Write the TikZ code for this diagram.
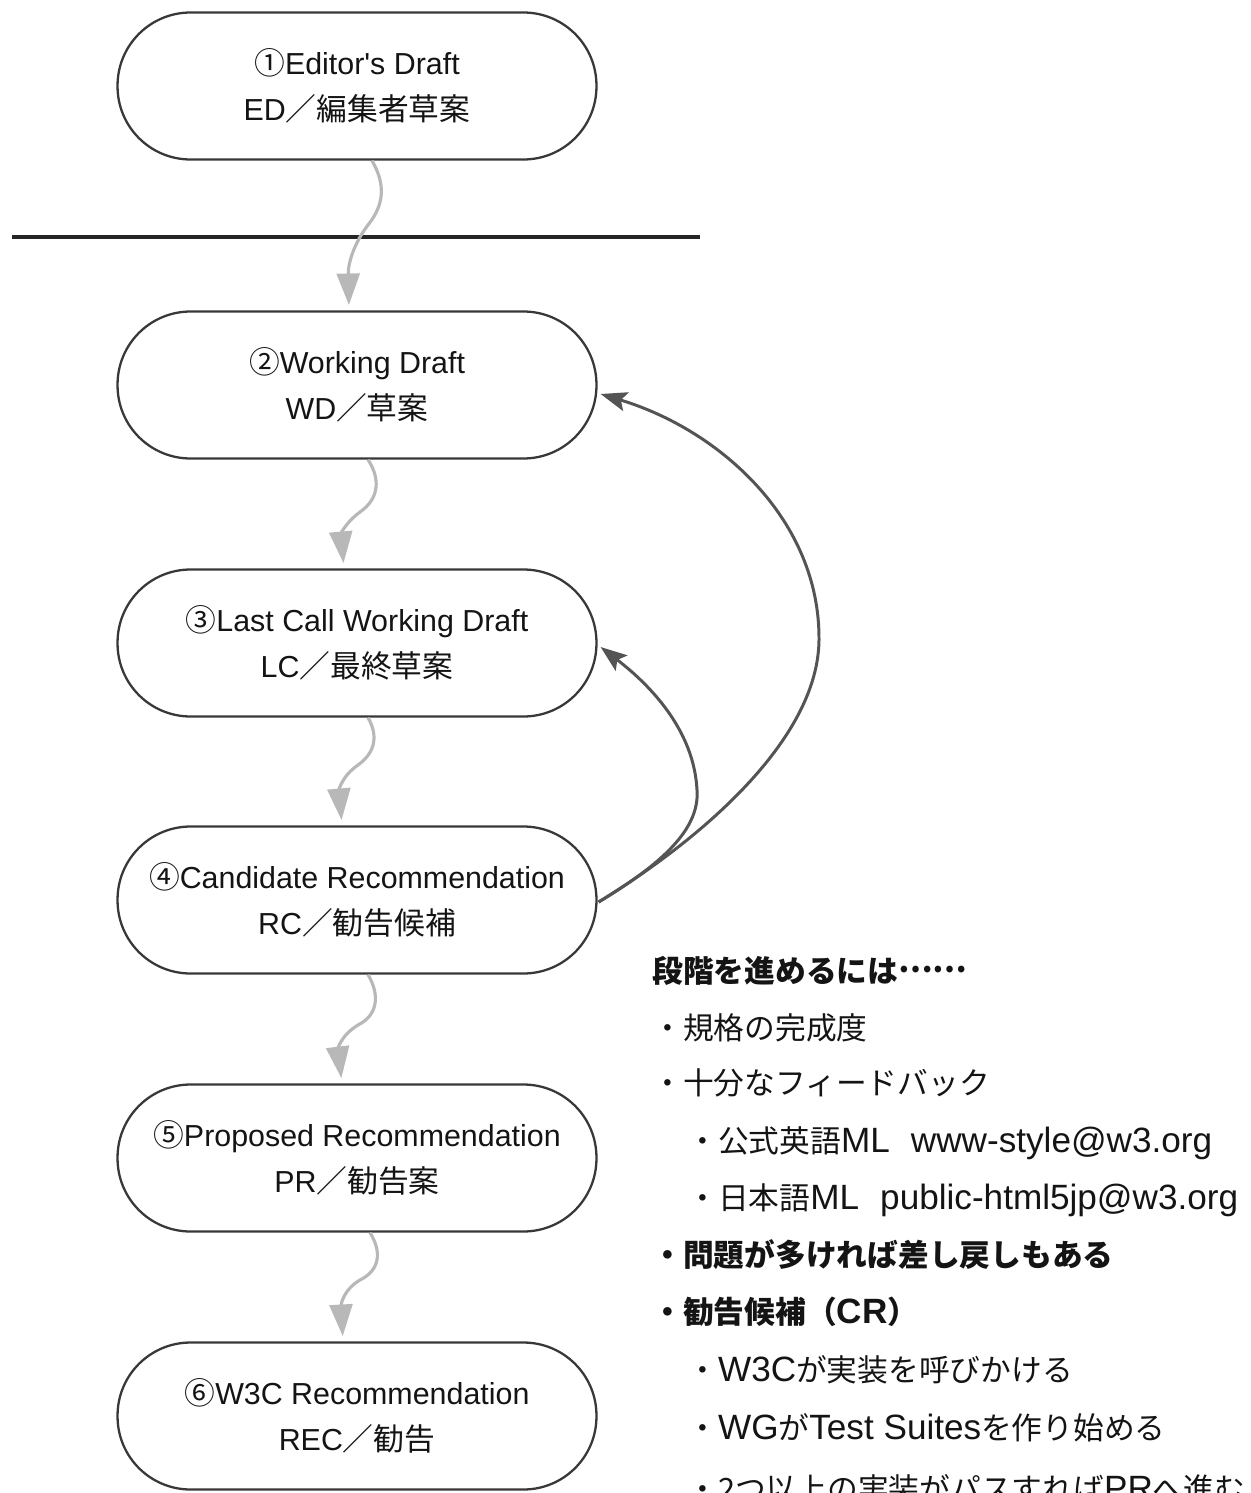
\documentclass[tikz,border=0pt]{standalone}
\usepackage{fontspec}
\setmainfont{Liberation Sans}
\newfontfamily\jpfont{Noto Sans CJK JP}
\usetikzlibrary{arrows.meta,calc}
\newcommand\jp[1]{{\jpfont\fontsize{17.5}{22}\selectfont #1}}
\definecolor{nodeline}{gray}{0.22}
\definecolor{flowgray}{gray}{0.72}
\definecolor{backgray}{gray}{0.33}
\definecolor{textcol}{gray}{0.08}
\begin{document}
\begin{tikzpicture}[x=0.02cm,y=-0.02cm,
  stage/.style={draw=nodeline,line width=1.3pt,rounded corners=1.46cm,
    minimum width=9.58cm,minimum height=2.94cm,inner sep=0pt,align=center,
    text=textcol,font=\fontsize{17.3}{26}\selectfont},
  flow/.style={draw=flowgray,line width=1.8pt,
    -{Triangle[length=18pt,width=13pt]},shorten >=3pt},
  back/.style={draw=backgray,line width=1.7pt,
    -{Stealth[length=15pt,width=11pt,inset=3pt]}},
  rtext/.style={anchor=base west,inner sep=0pt,text=textcol,
    font=\fontsize{20}{22}\selectfont}]
\useasboundingbox (0,0) rectangle (1250,1493);
\clip (0,0) rectangle (1250,1493);

% stages
\node[stage] (n1) at (357,86)   {\jp{①}Editor\textquotesingle s Draft\\ED\jp{／編集者草案}};
\node[stage] (n2) at (357,385)  {\jp{②}Working Draft\\WD\jp{／草案}};
\node[stage] (n3) at (357,643)  {\jp{③}Last Call Working Draft\\LC\jp{／最終草案}};
\node[stage] (n4) at (357,900)  {\jp{④}Candidate Recommendation\\RC\jp{／勧告候補}};
\node[stage] (n5) at (357,1158) {\jp{⑤}Proposed Recommendation\\PR\jp{／勧告案}};
\node[stage] (n6) at (357,1416) {\jp{⑥}W3C Recommendation\\REC\jp{／勧告}};

% separator line
\coordinate (sepL) at (12,237);
\coordinate (sepR) at (700,237);
\draw[line width=2.3pt,black!85] (sepL) -- (sepR);

% forward wavy arrows
\draw[flow] ($(n1.south)+(15,0)$) .. controls (386,185) and (384,205) .. (368,225)
  .. controls (355,242) and (348,262) .. ($(n2.north)+(-8,0)$);
\draw[flow] ($(n2.south)+(11,0)$) .. controls (380,478) and (380,498) .. (360,512)
  .. controls (344,524) and (341,535) .. ($(n3.north)+(-13,0)$);
\draw[flow] ($(n3.south)+(11,0)$) .. controls (378,735) and (376,752) .. (358,765)
  .. controls (342,776) and (339,790) .. ($(n4.north)+(-15,0)$);
\draw[flow] ($(n4.south)+(11,0)$) .. controls (380,995) and (378,1015) .. (358,1025)
  .. controls (340,1036) and (338,1050) .. ($(n5.north)+(-15,0)$);
\draw[flow] ($(n5.south)+(13,0)$) .. controls (382,1252) and (380,1270) .. (360,1280)
  .. controls (343,1290) and (341,1305) .. ($(n6.north)+(-14,0)$);

% feedback arrows
\draw[back] ($(n4.east)+(1,2)$) .. controls (700,840) and (818,740) .. (819,640)
  .. controls (820,520) and (720,430) .. ($(n2.east)+(3,9)$);
\draw[back] ($(n4.east)+(1,2)$) .. controls (660,865) and (700,830) .. (697,790)
  .. controls (694,730) and (650,685) .. ($(n3.east)+(3,4)$);

% right text block
\node[rtext] (h0) at (652,982)  {\jp{\bfseries 段階を進めるには\raisebox{0.32em}{……}}};
\node[rtext] (t1) at (652,1039) {\jp{・規格の完成度}};
\node[rtext] (t2) at (652,1094) {\jp{・十分なフィードバック}};
\node[rtext] (t3) at (687,1152) {\jp{・公式英語}ML\hspace{12pt}www-style@w3.org};
\node[rtext] (t4) at (687,1209) {\jp{・日本語}ML\hspace{12pt}public-html5jp@w3.org};
\node[rtext] (t5) at (652,1266) {\jp{\bfseries ・問題が多ければ差し戻しもある}};
\node[rtext] (t6) at (652,1323) {\bfseries\jp{・勧告候補（}CR\jp{）}};
\node[rtext] (t7) at (687,1381) {\jp{・}W3C\jp{が実装を呼びかける}};
\node[rtext] (t8) at (687,1439) {\jp{・}WG\jp{が}Test Suites\jp{を作り始める}};
\node[rtext] (t9) at (687,1500) {\jp{・2つ以上の実装がパスすれば}PR\jp{へ進む}};
\end{tikzpicture}
\end{document}
